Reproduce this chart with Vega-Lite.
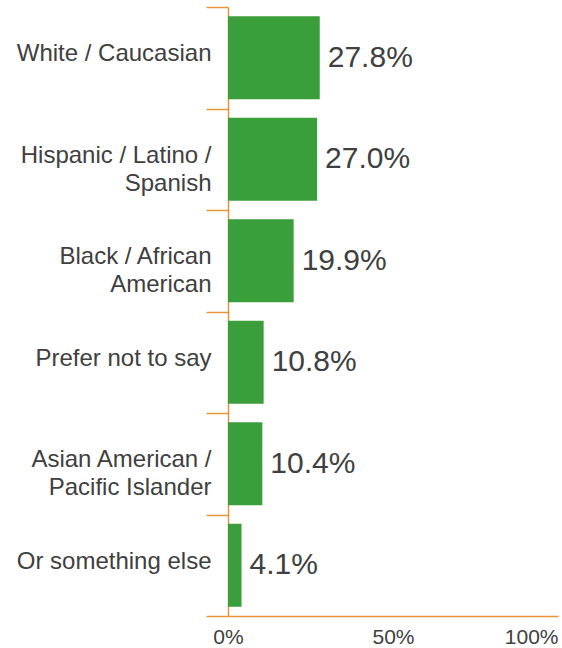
{
  "$schema": "https://vega.github.io/schema/vega-lite/v6.json",
  "width": 330,
  "height": 609,
  "autosize": {"type": "none"},
  "padding": {"left": 228, "top": 7, "right": 4, "bottom": 32},
  "background": "white",
  "data": {
    "values": [
      {"group": "White / Caucasian", "share": 0.278},
      {"group": "Hispanic / Latino /|Spanish", "share": 0.270},
      {"group": "Black / African|American", "share": 0.199},
      {"group": "Prefer not to say", "share": 0.108},
      {"group": "Asian American /|Pacific Islander", "share": 0.104},
      {"group": "Or something else", "share": 0.041}
    ]
  },
  "encoding": {
    "y": {
      "field": "group",
      "type": "nominal",
      "sort": null,
      "scale": {"paddingInner": 0, "paddingOuter": 0},
      "axis": {
        "title": null,
        "domainColor": "#e8953a",
        "domainWidth": 1.5,
        "tickColor": "#e8953a",
        "tickWidth": 1.5,
        "tickSize": 22,
        "tickBand": "extent",
        "labelPadding": -5,
        "labelOffset": -4,
        "labelFont": "Liberation Sans",
        "labelFontSize": 24,
        "labelColor": "#404040",
        "labelLineHeight": 28,
        "labelLimit": 300,
        "labelExpr": "split(datum.label, '|')"
      }
    }
  },
  "layer": [
    {
      "mark": {"type": "bar", "color": "#3a9e3a", "height": {"band": 0.82}},
      "encoding": {
        "x": {
          "field": "share",
          "type": "quantitative",
          "scale": {"domain": [0, 1]},
          "axis": {
            "title": null,
            "values": [0, 0.5, 1],
            "format": ".0%",
            "grid": false,
            "ticks": false,
            "domainColor": "#e8953a",
            "domainWidth": 1.5,
            "labelFont": "Liberation Sans",
            "labelFontSize": 21,
            "labelColor": "#404040",
            "labelPadding": 10,
            "labelAlign": {"condition": {"test": "datum.value == 1", "value": "right"}, "value": "center"}
          }
        }
      }
    },
    {
      "mark": {"type": "text", "align": "left", "baseline": "middle", "dx": 8, "font": "Liberation Sans", "fontSize": 30, "color": "#404040"},
      "encoding": {
        "x": {"field": "share", "type": "quantitative"},
        "text": {"field": "share", "type": "quantitative", "format": ".1%"}
      }
    }
  ],
  "config": {"view": {"stroke": null}}
}
